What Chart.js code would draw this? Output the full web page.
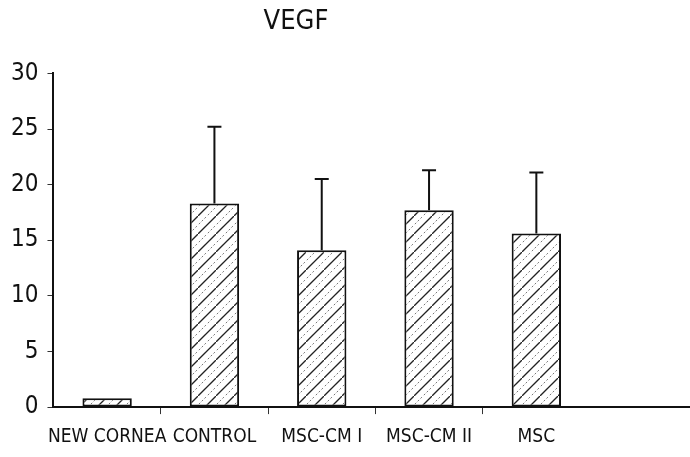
<!DOCTYPE html>
<html>
<head>
<meta charset="utf-8">
<title>VEGF</title>
<script src="https://cdn.jsdelivr.net/npm/chart.js@4"></script>
<style>
    html, body { margin: 0; padding: 0; background: #fff; }
    #chart { display: block; }
</style>
</head>
<body>
<canvas id="chart" width="690" height="457"></canvas>
<script>
// Data
const groups = ['NEW CORNEA', 'CONTROL', 'MSC-CM I', 'MSC-CM II', 'MSC'];
const vegf = [0.8, 18.3, 14.1, 17.7, 15.6];
const errTop = [0.8, 25.2, 20.5, 21.3, 21.1];
const yTicks = [0, 5, 10, 15, 20, 25, 30];

// condensed face of DejaVu Sans via the font-stretch keyword
const FONT = '"DejaVu Sans", sans-serif';
const NARROW = 'condensed';

// diagonal hatch: one solid line and one fainter dotted line per tile
function makeHatch() {
    const s = 18;
    const c = document.createElement('canvas');
    c.width = s;
    c.height = s;
    const g = c.getContext('2d');
    g.fillStyle = '#fff';
    g.fillRect(0, 0, s, s);
    g.strokeStyle = '#222';
    g.lineWidth = 1.3;
    g.beginPath();
    g.moveTo(-2, s + 2); g.lineTo(s + 2, -2);
    g.stroke();
    g.strokeStyle = '#777';
    g.lineWidth = 1;
    g.setLineDash([2, 2]);
    g.beginPath();
    g.moveTo(-2, s / 2 + 2); g.lineTo(s / 2 + 2, -2);
    g.moveTo(s / 2 - 2, s + 2); g.lineTo(s + 2, s / 2 - 2);
    g.stroke();
    return g.createPattern(c, 'repeat');
}

const errorBars = {
    id: 'errorBars',
    afterDatasetsDraw(chart) {
        const ctx = chart.ctx;
        const yScale = chart.scales.y;
        const meta = chart.getDatasetMeta(0);
        ctx.save();
        ctx.strokeStyle = '#111';
        ctx.lineWidth = 2;
        meta.data.forEach((bar, i) => {
            if (errTop[i] <= vegf[i]) return;
            const yT = yScale.getPixelForValue(errTop[i]);
            ctx.beginPath();
            ctx.moveTo(bar.x, bar.y);
            ctx.lineTo(bar.x, yT);
            ctx.moveTo(bar.x - 7, yT);
            ctx.lineTo(bar.x + 7, yT);
            ctx.stroke();
        });
        ctx.restore();
    }
};

// the baseline runs on to the right edge of the figure
const baseLine = {
    id: 'baseLine',
    afterDraw(chart) {
        const ctx = chart.ctx;
        const y0 = chart.scales.y.getPixelForValue(0);
        ctx.save();
        ctx.strokeStyle = '#111';
        ctx.lineWidth = 2;
        ctx.beginPath();
        ctx.moveTo(chart.chartArea.left, y0);
        ctx.lineTo(chart.width, y0);
        ctx.stroke();
        ctx.restore();
    }
};

new Chart(document.getElementById('chart').getContext('2d'), {
    type: 'bar',
    data: {
        labels: groups,
        datasets: [{
            label: 'VEGF',
            data: vegf,
            backgroundColor: makeHatch(),
            borderColor: '#111',
            borderWidth: 2,
            borderSkipped: false,
            categoryPercentage: 1,
            barPercentage: 0.46
        }]
    },
    options: {
        responsive: false,
        animation: false,
        layout: { padding: { left: 2, right: 100, top: 0, bottom: -4 } },
        plugins: {
            legend: { display: false },
            tooltip: { enabled: false },
            title: {
                display: true,
                text: 'VEGF',
                color: '#111',
                font: { family: FONT, size: 27, weight: NARROW },
                padding: { top: 6, bottom: 35 }
            }
        },
        scales: {
            x: {
                grid: {
                    drawOnChartArea: false,
                    tickLength: 7,
                    // only the four inner category boundaries get a tick
                    color: ctx => (ctx.type !== 'tick' || ctx.index === 0) ? 'rgba(0,0,0,0)' : '#333'
                },
                border: { display: true, color: '#111', width: 2 },
                ticks: {
                    color: '#111',
                    padding: 13,
                    maxRotation: 0,
                    autoSkip: false,
                    font: { family: FONT, size: 19, weight: NARROW, lineHeight: 1.1 }
                }
            },
            y: {
                min: 0,
                max: 30,
                afterBuildTicks: axis => { axis.ticks = yTicks.map(v => ({ value: v })); },
                grid: {
                    drawOnChartArea: false,
                    tickLength: 6,
                    color: '#333'
                },
                border: { display: true, color: '#111', width: 2 },
                ticks: {
                    color: '#111',
                    padding: 9,
                    font: { family: FONT, size: 24, weight: NARROW }
                }
            }
        }
    },
    plugins: [errorBars, baseLine]
});
</script>
</body>
</html>
